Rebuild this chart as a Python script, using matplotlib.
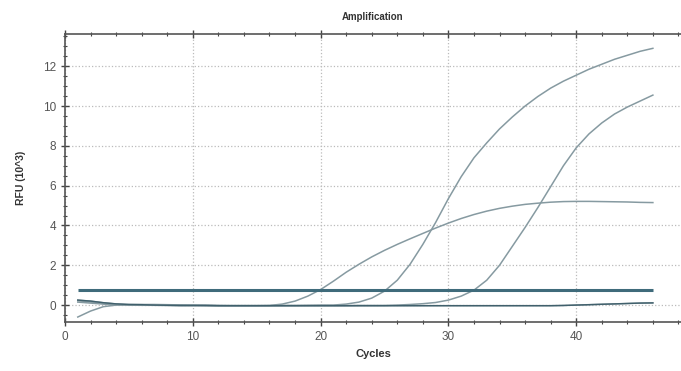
import matplotlib
matplotlib.use("Agg")
import matplotlib.pyplot as plt
from matplotlib.ticker import MultipleLocator

plt.rcParams['font.family'] = ['Liberation Sans', 'DejaVu Sans']

# cycle numbers and RFU readings (x1000)
cycles = list(range(1, 47))

rfu_early = [-0.60, -0.30, -0.08, 0.00, 0.02, 0.03, 0.03, 0.02, 0.01, 0.00,
             -0.01, -0.02, -0.03, -0.03, -0.03, -0.02, 0.05, 0.20, 0.45, 0.78,
             1.20, 1.65, 2.05, 2.42, 2.75, 3.05, 3.33, 3.60, 3.87, 4.12,
             4.35, 4.55, 4.72, 4.86, 4.97, 5.06, 5.12, 5.17, 5.20, 5.21,
             5.21, 5.20, 5.19, 5.18, 5.16, 5.15]

rfu_mid = [0.22, 0.15, 0.08, 0.03, 0.01, 0.00, -0.01, -0.01, -0.02, -0.02,
           -0.02, -0.03, -0.03, -0.03, -0.03, -0.03, -0.02, -0.02, -0.01, 0.00,
           0.00, 0.05, 0.15, 0.35, 0.70, 1.25, 2.05, 3.05, 4.15, 5.35,
           6.45, 7.40, 8.15, 8.85, 9.45, 10.00, 10.48, 10.90, 11.25, 11.55,
           11.85, 12.10, 12.35, 12.55, 12.75, 12.90]

rfu_late = [0.15, 0.10, 0.05, 0.02, 0.00, -0.01, -0.01, -0.02, -0.02, -0.02,
            -0.03, -0.03, -0.03, -0.03, -0.03, -0.03, -0.03, -0.03, -0.03, -0.03,
            -0.03, -0.03, -0.02, -0.02, -0.02, 0.00, 0.03, 0.07, 0.13, 0.25,
            0.45, 0.75, 1.25, 2.00, 2.95, 3.90, 4.90, 5.95, 7.00, 7.90,
            8.60, 9.15, 9.60, 9.95, 10.25, 10.55]

rfu_flat = [0.25, 0.20, 0.12, 0.06, 0.03, 0.02, 0.00, -0.01, -0.02, -0.02,
            -0.02, -0.03, -0.03, -0.03, -0.03, -0.03, -0.03, -0.03, -0.03, -0.03,
            -0.03, -0.03, -0.03, -0.03, -0.03, -0.03, -0.03, -0.03, -0.03, -0.03,
            -0.03, -0.03, -0.03, -0.03, -0.03, -0.03, -0.03, -0.03, -0.02, 0.00,
            0.02, 0.04, 0.06, 0.08, 0.10, 0.11]

threshold = 0.75

fig = plt.figure(figsize=(6.81, 3.71), dpi=100)
ax = fig.add_axes([65 / 681, 1 - 322 / 371, 1 - 65 / 681, (322 - 34) / 371])

curve_color = '#869aa1'
for series in (rfu_flat, rfu_late, rfu_mid, rfu_early):
    ax.plot(cycles, series, color=curve_color, lw=1.1)
ax.plot(cycles, rfu_flat, color='#40606c', lw=1.0)
ax.hlines(threshold, cycles[0], cycles[-1], color='#3f6b7b', lw=2.2)

ax.set_xlim(0, 48.2)
ax.set_ylim(-0.85, 13.62)
ax.xaxis.set_major_locator(MultipleLocator(10))
ax.xaxis.set_minor_locator(MultipleLocator(2))
ax.yaxis.set_major_locator(MultipleLocator(2))
ax.yaxis.set_minor_locator(MultipleLocator(0.5))
ax.grid(True, which='major', color='#bbbbbb', linestyle=':', linewidth=0.9)

ax.tick_params(which='both', direction='inout', top=True, right=False,
               labelsize=8.5, labelcolor='#555555', color='#444444')
ax.tick_params(which='major', length=6, width=1.0)
ax.tick_params(which='minor', length=3, width=0.8)

ax.spines['right'].set_visible(False)
for side in ('left', 'top', 'bottom'):
    ax.spines[side].set_color('#555555')
    ax.spines[side].set_linewidth(1.2)

ax.set_title('Amplification', fontsize=7, fontweight='bold', color='#333333', pad=10)
ax.set_xlabel('Cycles', fontsize=8, fontweight='bold', color='#333333', labelpad=4)
ax.set_ylabel('RFU (10^3)', fontsize=7.5, fontweight='bold', color='#333333', labelpad=12)

fig.savefig('out.png', dpi=100)
